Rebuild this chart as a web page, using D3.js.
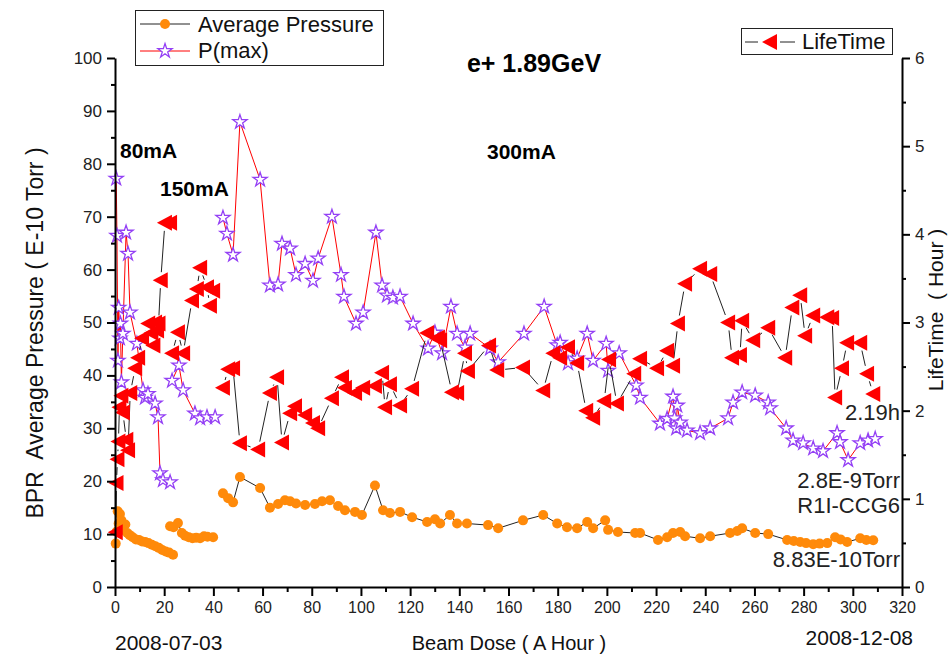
<!DOCTYPE html>
<html>
<head>
<meta charset="utf-8">
<script src="https://cdn.jsdelivr.net/npm/d3@7"></script>
<style>
  html, body { margin: 0; padding: 0; background: #fff; }
  svg { display: block; font-family: "Liberation Sans", Arial, sans-serif; }
  .pre { white-space: pre; }
</style>
</head>
<body>
<svg id="chart" width="949" height="658"></svg>
<script>
// Beam dose (A·h) and readings; null marks a break between beam-current runs
const avgDose = [0.3,0.7,1.1,1.5,2.0,2.6,3.3,4.2,5.0,6.0,7.2,8.5,9.8,11.0,12.3,13.6,15.0,16.4,17.8,19.2,20.6,22.0,23.6,null,
  22.4,23.8,25.6,27.2,28.5,30.0,31.5,33.0,34.6,36.2,37.6,39.9,null,
  43.9,46.0,48.0,50.8,59.0,63.0,66.3,69.1,71.2,73.6,77.3,81.3,84.2,87.4,90.7,93.5,97.6,100.4,105.7,109.0,111.8,115.9,120.8,126.9,130.1,132.2,136.2,139.1,143.1,151.7,155.8,165.9,174.1,179.8,183.8,187.9,192.0,194.4,199.3,200.5,204.5,211.5,213.5,220.8,224.5,226.9,229.8,231.8,237.9,242.0,250.1,253.0,255.0,260.3,265.6,273.3,276.0,278.6,281.0,283.9,286.5,289.6,292.8,295.0,297.7,303.0,305.5,308.3];
const avgPressure = [8.2,10.5,14.3,12.0,13.8,12.6,10.8,11.8,10.2,9.8,9.4,9.0,8.9,8.6,8.5,8.3,8.0,7.7,7.4,7.0,6.7,6.5,6.1,null,
  11.5,11.3,12.1,10.2,9.7,9.4,9.2,9.3,9.2,9.6,9.5,9.4,null,
  17.7,16.8,16.0,20.8,18.7,15.0,15.7,16.4,16.2,15.8,15.5,15.7,16.2,16.4,15.3,14.5,14.2,13.6,19.2,14.5,14.0,14.2,13.2,12.3,12.8,12.0,13.6,12.0,12.0,11.7,11.1,12.6,13.6,12.0,11.3,11.1,12.3,11.1,12.6,10.8,10.4,10.2,10.2,8.9,9.4,10.2,10.4,9.6,9.2,9.6,10.2,10.6,11.1,10.2,10.0,8.9,8.7,8.5,8.3,8.1,8.2,8.3,9.4,9.0,8.5,9.2,8.9,8.83];

const pmaxDose = [0.5,0.8,1.2,1.5,2.0,2.2,2.6,3.2,4.5,5.3,6.1,8.9,11.4,12.2,13.4,16.3,17.5,18.3,19.5,22.4,null,
  23.2,26.0,27.7,32.5,34.6,37.4,40.7,null,
  43.9,45.5,48.0,50.8,59.0,63.0,66.3,67.9,71.2,73.6,77.3,80.5,82.6,88.2,91.9,93.1,98.0,100.9,106.1,108.6,110.6,113.0,115.9,121.2,127.3,130.1,133.0,136.6,139.1,142.3,144.4,152.5,155.8,166.3,174.5,179.8,181.0,184.2,187.9,192.0,194.4,199.7,200.5,205.0,211.9,213.5,221.6,224.5,226.9,227.5,228.2,228.6,229.8,232.6,237.9,242.0,249.3,251.3,255.0,260.3,265.6,266.4,272.9,275.7,279.8,283.9,287.9,293.6,294.8,298.1,303.0,306.2,309.1];
const pmaxPressure = [77.2,66.4,42.8,52.8,47.0,49.8,38.7,47.9,67.0,63.0,51.9,46.0,37.2,35.8,36.5,34.7,32.1,21.5,20.2,19.8,null,
  39.0,41.9,37.2,32.8,31.9,32.1,32.1,null,
  69.8,66.8,62.8,87.9,77.0,57.0,57.2,64.9,64.0,59.0,61.1,57.9,62.1,70.0,59.0,54.9,49.8,51.9,67.0,57.0,55.1,54.7,54.9,49.8,45.1,48.1,44.2,53.0,47.9,45.3,47.9,45.1,42.5,47.9,53.0,45.7,46.2,42.3,43.2,47.9,42.8,46.0,40.9,44.2,38.1,35.8,30.9,31.8,36.0,31.9,30.0,34.3,31.1,29.6,29.1,30.0,31.9,34.9,36.8,36.2,34.9,33.8,30.0,27.7,27.2,26.2,25.7,29.1,27.4,24.0,27.2,27.7,28.0];

const lifeDose = [0.3,0.6,1.0,1.4,1.8,2.6,3.2,4.6,5.3,6.2,8.2,9.4,11.0,13.5,14.8,15.6,16.3,17.1,17.7,18.6,20.3,22.4,null,
  23.2,25.6,27.7,31.3,33.3,34.6,37.4,38.6,39.9,null,
  43.9,46.0,48.0,50.8,58.2,63.0,65.9,67.9,71.2,73.2,77.3,80.5,82.6,88.2,92.3,93.5,97.6,100.9,105.7,108.6,109.8,111.8,115.9,120.8,126.9,131.3,132.2,137.0,139.1,142.3,143.5,152.1,155.4,165.9,174.1,178.2,181.0,184.2,187.9,191.6,194.4,198.9,200.9,204.1,211.1,213.5,220.4,224.5,226.9,228.9,231.8,237.9,242.0,249.3,250.9,254.1,255.0,259.5,265.6,272.5,275.4,278.6,280.6,283.9,289.6,291.6,292.8,295.6,297.7,303.0,305.8,308.3];
const lifeTime = [0.62,1.18,1.45,1.65,2.04,2.17,1.98,1.67,1.55,2.2,2.48,2.6,2.82,2.99,2.88,2.74,3.0,2.91,2.99,3.48,4.13,4.13,null,
  2.65,2.89,2.65,3.25,3.38,3.62,3.4,3.19,3.36,null,
  2.26,2.47,2.48,1.63,1.56,2.2,2.38,1.64,1.97,2.05,1.95,1.86,1.8,2.14,2.38,2.26,2.2,2.26,2.28,2.43,2.04,2.3,2.06,2.25,2.88,2.83,2.8,2.21,2.2,2.65,2.45,2.74,2.46,2.49,2.23,2.65,2.6,2.72,2.54,2.0,1.92,2.11,2.58,2.08,2.42,2.59,2.48,2.68,2.51,2.99,3.44,3.61,3.55,3.0,2.6,2.63,3.02,2.8,2.94,2.6,3.17,3.31,2.85,3.08,3.06,3.05,2.15,2.48,2.77,2.77,2.42,2.19];

const xTicks = d3.range(0, 321, 20);
const xMinor = d3.range(10, 320, 20);
const yLeftTicks = d3.range(0, 101, 10);
const yLeftMinor = d3.range(5, 100, 10);
const yRightTicks = d3.range(0, 7, 1);
const yRightMinor = d3.range(0.5, 6, 1);

const svg = d3.select("#chart");
const x = d3.scaleLinear().domain([0, 320]).range([115, 902]);
const yL = d3.scaleLinear().domain([0, 100]).range([587, 58]);
const yR = d3.scaleLinear().domain([0, 6]).range([587, 58]);

const pair = (xs, ys) => xs.map((d, i) => d == null ? null : [d, ys[i]]);
const avgPts = pair(avgDose, avgPressure);
const pmaxPts = pair(pmaxDose, pmaxPressure);
const lifePts = pair(lifeDose, lifeTime);

// Straight segments between neighbouring points, trimmed so they stop short of the symbols
function gapLines(g, pts, sy, gap, color, width) {
  for (let i = 1; i < pts.length; i++) {
    const a = pts[i - 1], b = pts[i];
    if (!a || !b) continue;
    const x1 = x(a[0]), y1 = sy(a[1]), x2 = x(b[0]), y2 = sy(b[1]);
    const len = Math.hypot(x2 - x1, y2 - y1);
    if (len <= 2 * gap) continue;
    const ux = (x2 - x1) / len, uy = (y2 - y1) / len;
    g.append("line")
      .attr("x1", x1 + ux * gap).attr("y1", y1 + uy * gap)
      .attr("x2", x2 - ux * gap).attr("y2", y2 - uy * gap)
      .attr("stroke", color).attr("stroke-width", width);
  }
}

const starPath = d3.symbol().type(d3.symbolStar).size(62)();
const triPath = "M-8,0L7,-8L7,8Z";
const orange = "#ff8a0a", purple = "#9440f5", red = "#ff0000";

const plot = svg.append("g");

// Average pressure
gapLines(plot.append("g"), avgPts, yL, 4, "#222", 1);
plot.append("g").selectAll("circle").data(avgPts.filter(d => d)).join("circle")
  .attr("cx", d => x(d[0])).attr("cy", d => yL(d[1])).attr("r", 5)
  .attr("fill", orange);

// Maximum pressure
const pmaxLine = d3.line().defined(d => d).x(d => x(d[0])).y(d => yL(d[1]));
plot.append("path").datum(pmaxPts).attr("d", pmaxLine)
  .attr("fill", "none").attr("stroke", red).attr("stroke-width", 1);
plot.append("g").selectAll("path").data(pmaxPts.filter(d => d)).join("path")
  .attr("transform", d => `translate(${x(d[0])},${yL(d[1])})`)
  .attr("d", starPath).attr("fill", "#fff").attr("stroke", purple).attr("stroke-width", 1.3);

// Beam lifetime (right axis)
gapLines(plot.append("g"), lifePts, yR, 8, "#222", 1);
plot.append("g").selectAll("path").data(lifePts.filter(d => d)).join("path")
  .attr("transform", d => `translate(${x(d[0])},${yR(d[1])})`)
  .attr("d", triPath).attr("fill", red);

// Axes
function styleAxis(g) {
  g.select(".domain").attr("stroke", "#000").attr("stroke-width", 2);
  g.selectAll(".tick line").attr("stroke", "#000").attr("stroke-width", 2);
  g.selectAll(".tick text").attr("fill", "#222").attr("font-family", "Liberation Sans, Arial, sans-serif");
}
const gx = svg.append("g").attr("transform", "translate(0,587)")
  .call(d3.axisBottom(x).tickValues(xTicks).tickSize(9).tickSizeOuter(0).tickPadding(6))
  .call(styleAxis);
gx.selectAll(".tick text").attr("font-size", 16);
svg.append("g").attr("transform", "translate(0,587)")
  .call(d3.axisBottom(x).tickValues(xMinor).tickSize(5).tickSizeOuter(0).tickFormat(""))
  .call(styleAxis).select(".domain").remove();

const gyl = svg.append("g").attr("transform", "translate(115,0)")
  .call(d3.axisLeft(yL).tickValues(yLeftTicks).tickSize(8).tickSizeOuter(0).tickPadding(5))
  .call(styleAxis);
gyl.selectAll(".tick text").attr("font-size", 17);
svg.append("g").attr("transform", "translate(115,0)")
  .call(d3.axisLeft(yL).tickValues(yLeftMinor).tickSize(4).tickSizeOuter(0).tickFormat(""))
  .call(styleAxis).select(".domain").remove();

const gyr = svg.append("g").attr("transform", "translate(902,0)")
  .call(d3.axisRight(yR).tickValues(yRightTicks).tickFormat(d3.format("d"))
    .tickSize(8).tickSizeOuter(0).tickPadding(5))
  .call(styleAxis);
gyr.selectAll(".tick text").attr("font-size", 17);
svg.append("g").attr("transform", "translate(902,0)")
  .call(d3.axisRight(yR).tickValues(yRightMinor).tickSize(4).tickSizeOuter(0).tickFormat(""))
  .call(styleAxis).select(".domain").remove();

// Axis titles
svg.append("text").attr("class", "pre").attr("transform", "translate(43,333) rotate(-90)")
  .attr("text-anchor", "middle").attr("font-size", 23).attr("fill", "#111")
  .text("BPR  Average Pressure ( E-10 Torr )");
svg.append("text").attr("class", "pre").attr("transform", "translate(943,310) rotate(-90)")
  .attr("text-anchor", "middle").attr("font-size", 21).attr("fill", "#111")
  .text("LifeTime  ( Hour )");
svg.append("text").attr("x", 509).attr("y", 650).attr("text-anchor", "middle")
  .attr("font-size", 20).attr("fill", "#111").text("Beam Dose ( A Hour )");
svg.append("text").attr("x", 115).attr("y", 650).attr("font-size", 21).attr("fill", "#111").text("2008-07-03");
svg.append("text").attr("x", 913).attr("y", 645).attr("text-anchor", "end").attr("font-size", 21).attr("fill", "#111").text("2008-12-08");

// Title and run labels
svg.append("text").attr("x", 534).attr("y", 72).attr("text-anchor", "middle")
  .attr("font-size", 25).attr("font-weight", "bold").text("e+ 1.89GeV");
svg.append("text").attr("x", 120).attr("y", 158).attr("font-size", 21).attr("font-weight", "bold").text("80mA");
svg.append("text").attr("x", 160).attr("y", 196).attr("font-size", 21).attr("font-weight", "bold").text("150mA");
svg.append("text").attr("x", 487).attr("y", 159).attr("font-size", 21).attr("font-weight", "bold").text("300mA");

// End-of-run readings
const notes = [["2.19h", 420], ["2.8E-9Torr", 488], ["R1I-CCG6", 513], ["8.83E-10Torr", 567]];
svg.append("g").selectAll("text").data(notes).join("text")
  .attr("x", 900).attr("y", d => d[1]).attr("text-anchor", "end")
  .attr("font-size", 22).attr("fill", "#222").text(d => d[0]);

// Legends
const leg1 = svg.append("g");
leg1.append("rect").attr("x", 135.5).attr("y", 10.5).attr("width", 248).attr("height", 55)
  .attr("fill", "#fff").attr("stroke", "#222").attr("stroke-width", 1);
leg1.append("line").attr("x1", 140).attr("x2", 190).attr("y1", 24).attr("y2", 24).attr("stroke", "#222");
leg1.append("circle").attr("cx", 165).attr("cy", 24).attr("r", 5).attr("fill", orange);
leg1.append("text").attr("x", 198).attr("y", 32).attr("font-size", 22).attr("fill", "#111").text("Average Pressure");
leg1.append("line").attr("x1", 140).attr("x2", 190).attr("y1", 51).attr("y2", 51).attr("stroke", red);
leg1.append("path").attr("transform", "translate(165,51)").attr("d", starPath)
  .attr("fill", "#fff").attr("stroke", purple).attr("stroke-width", 1.3);
leg1.append("text").attr("x", 198).attr("y", 58).attr("font-size", 22).attr("fill", "#111").text("P(max)");

const leg2 = svg.append("g");
leg2.append("rect").attr("x", 741.5).attr("y", 28.5).attr("width", 151).attr("height", 26)
  .attr("fill", "#fff").attr("stroke", "#222").attr("stroke-width", 1);
leg2.append("line").attr("x1", 745).attr("x2", 758).attr("y1", 42).attr("y2", 42).attr("stroke", "#222");
leg2.append("line").attr("x1", 780).attr("x2", 795).attr("y1", 42).attr("y2", 42).attr("stroke", "#222");
leg2.append("path").attr("transform", "translate(770,42)").attr("d", triPath).attr("fill", red);
leg2.append("text").attr("x", 802).attr("y", 49).attr("font-size", 22).attr("fill", "#111").text("LifeTime");
</script>
</body>
</html>
